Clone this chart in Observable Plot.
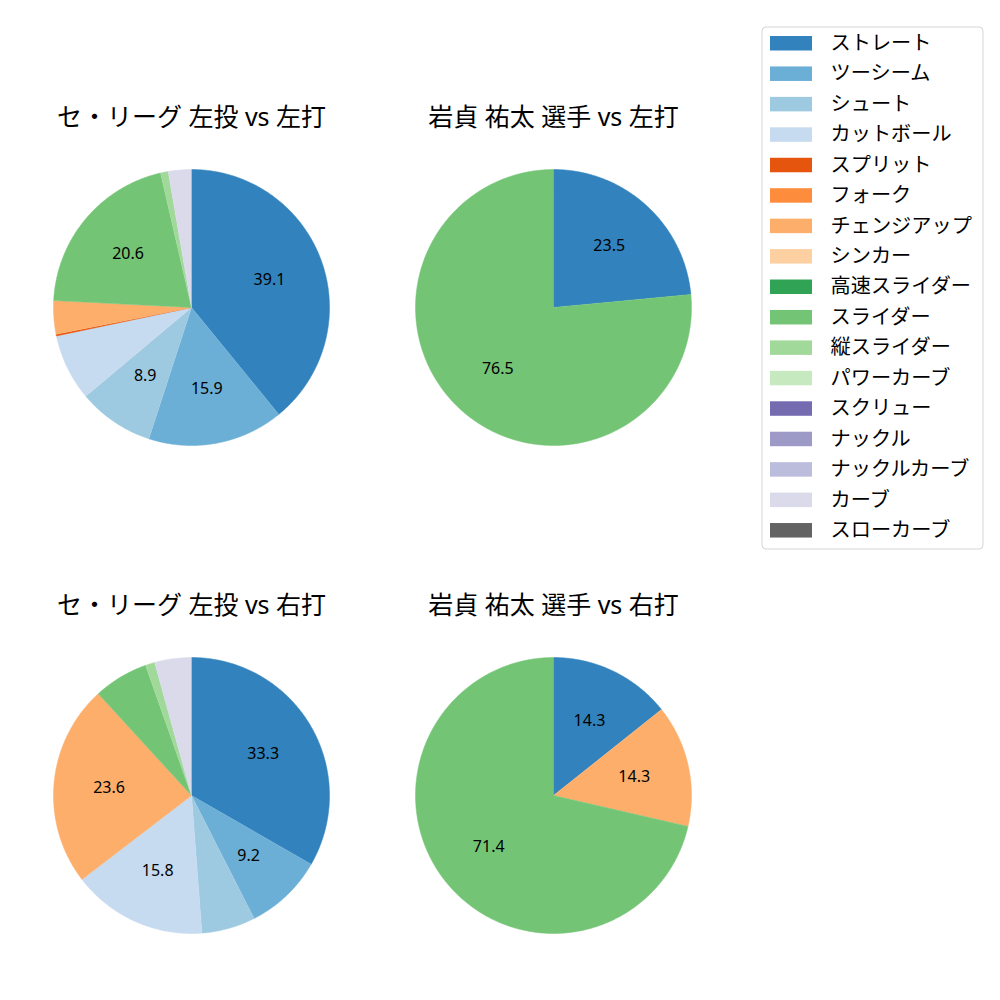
<!DOCTYPE html>
<html>
<head>
<meta charset="utf-8">
<script src="https://cdn.jsdelivr.net/npm/d3@7"></script>
<script src="https://cdn.jsdelivr.net/npm/@observablehq/plot@0.6"></script>
<style>
  html, body { margin: 0; padding: 0; background: #ffffff; }
  #chart svg { display: block; }
</style>
</head>
<body>
<div id="chart"></div>
<script>
// ---- Data ----
const pitchTypes = ["ストレート", "ツーシーム", "シュート", "カットボール", "スプリット", "フォーク",
  "チェンジアップ", "シンカー", "高速スライダー", "スライダー", "縦スライダー", "パワーカーブ",
  "スクリュー", "ナックル", "ナックルカーブ", "カーブ", "スローカーブ"];
const pitchColors = ["#3182bd", "#6baed6", "#9ecae1", "#c6dbef", "#e6550d", "#fd8d3c",
  "#fdae6b", "#fdd0a2", "#31a354", "#74c476", "#a1d99b", "#c7e9c0",
  "#756bb1", "#9e9ac8", "#bcbddc", "#dadaeb", "#636363"];
const pieTitles = ["セ・リーグ 左投 vs 左打", "岩貞 祐太 選手 vs 左打", "セ・リーグ 左投 vs 右打", "岩貞 祐太 選手 vs 右打"];
// percentages, aligned with pitchTypes
const leagueVsLeft   = [39.1, 15.9, 8.9, 7.8, 0.2, 0, 3.9, 0, 0, 20.6, 0.9, 0, 0, 0, 0, 2.7, 0];
const iwasadaVsLeft  = [23.5, 0, 0, 0, 0, 0, 0, 0, 0, 76.5, 0, 0, 0, 0, 0, 0, 0];
const leagueVsRight  = [33.3, 9.2, 6.3, 15.8, 0, 0, 23.6, 0, 0, 6.4, 1.1, 0, 0, 0, 0, 4.3, 0];
const iwasadaVsRight = [14.3, 0, 0, 0, 0, 0, 14.3, 0, 0, 71.4, 0, 0, 0, 0, 0, 0, 0];

// ---- Layout ----
const W = 1000, H = 1000;
const R = 138;
const panels = [
  {title: pieTitles[0], values: leagueVsLeft,   cx: 191, cy: 307},
  {title: pieTitles[1], values: iwasadaVsLeft,  cx: 553, cy: 307},
  {title: pieTitles[2], values: leagueVsRight,  cx: 191, cy: 795},
  {title: pieTitles[3], values: iwasadaVsRight, cx: 553, cy: 795}
];

const slicePts = [];
const labels = [];
const titles = [];
panels.forEach((p, pi) => {
  titles.push({x: p.cx, y: p.cy - 190, text: p.title});
  const total = d3.sum(p.values);
  let cum = 0;
  p.values.forEach((v, i) => {
    if (!(v > 0)) return;
    const a0 = cum / total * 2 * Math.PI;
    const a1 = (cum + v) / total * 2 * Math.PI;
    cum += v;
    const id = pi + "-" + i;
    const color = pitchColors[i];
    const n = Math.max(2, Math.ceil((a1 - a0) / (Math.PI / 360)));
    slicePts.push({id, x: p.cx, y: p.cy, color});
    for (let k = 0; k <= n; k++) {
      const a = a0 + (a1 - a0) * k / n;
      slicePts.push({id, x: p.cx + R * Math.sin(a), y: p.cy - R * Math.cos(a), color});
    }
    const pct = v / total * 100;
    if (pct >= 8) {
      const am = (a0 + a1) / 2;
      labels.push({x: p.cx + 0.6 * R * Math.sin(am), y: p.cy - 0.6 * R * Math.cos(am), text: pct.toFixed(1)});
    }
  });
});

const legendStep = 30.44;
const legendItems = pitchTypes.map((t, i) => ({
  name: t, color: pitchColors[i],
  x1: 770, x2: 812, y1: 36 + i * legendStep, y2: 50.5 + i * legendStep,
  tx: 830, ty: 43 + i * legendStep
}));

const font = "'Noto Sans', 'Noto Sans CJK JP', sans-serif";

const chart = Plot.plot({
  width: W, height: H,
  margin: 0,
  x: {domain: [0, W], range: [0, W], axis: null},
  y: {domain: [0, H], range: [0, H], axis: null},
  color: {type: "identity"},
  style: {fontFamily: font, background: "#ffffff"},
  marks: [
    Plot.line(slicePts, {x: "x", y: "y", z: "id", fill: "color", stroke: "color", strokeWidth: 0.5, curve: "linear"}),
    Plot.text(labels, {x: "x", y: "y", text: "text", fontSize: 16, fill: "#000000", fontFamily: font}),
    Plot.text(titles, {x: "x", y: "y", text: "text", fontSize: 25, fill: "#000000", fontFamily: font}),
    Plot.rect([{x1: 762, x2: 983, y1: 27, y2: 549}], {x1: "x1", x2: "x2", y1: "y1", y2: "y2", fill: "#ffffff", stroke: "#d5d5d5", strokeWidth: 1, rx: 4}),
    Plot.rect(legendItems, {x1: "x1", x2: "x2", y1: "y1", y2: "y2", fill: "color"}),
    Plot.text(legendItems, {x: "tx", y: "ty", text: "name", textAnchor: "start", fontSize: 20.2, fill: "#000000", fontFamily: font})
  ]
});
document.getElementById("chart").appendChild(chart);
</script>
</body>
</html>
